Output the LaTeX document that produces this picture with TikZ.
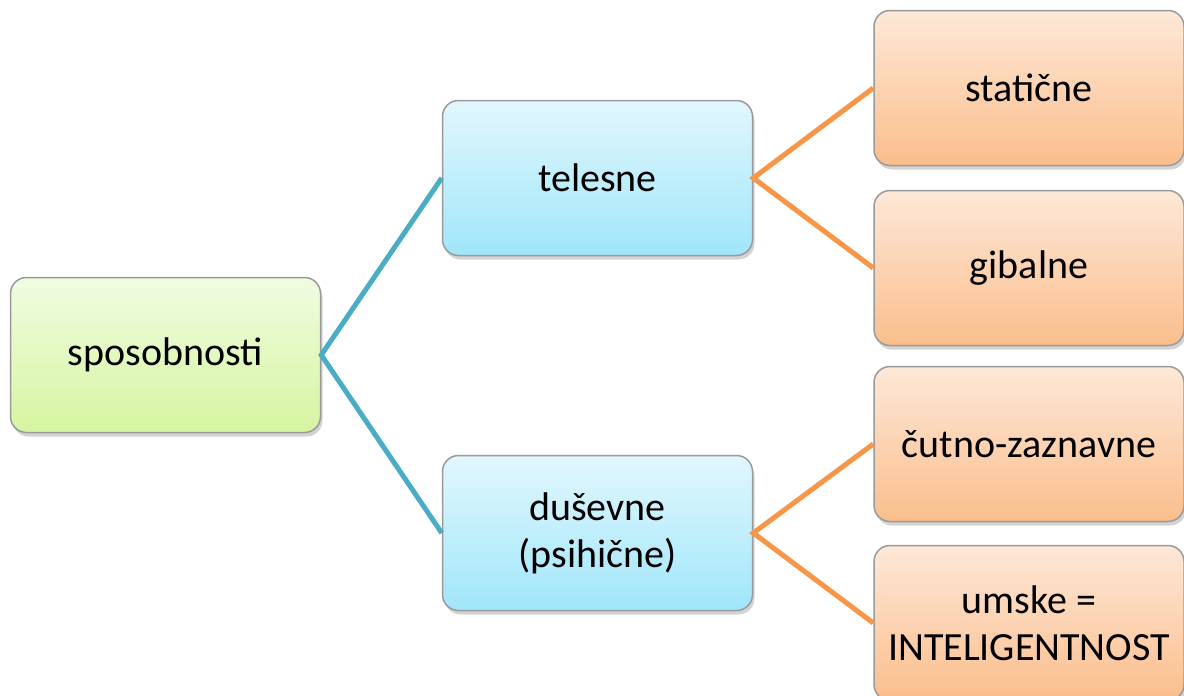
\documentclass[tikz,border=0pt]{standalone}
\usepackage{fontspec}
\setmainfont{Carlito}
\usetikzlibrary{shadows}
\definecolor{lnblue}{HTML}{4BACC6}
\definecolor{lnorange}{HTML}{F79646}
\definecolor{bordergray}{HTML}{9A9A9A}
\tikzset{
  box/.style={draw=bordergray, line width=1.5pt, rounded corners=16pt,
    minimum width=310pt, minimum height=155pt, align=center, inner sep=2pt,
    font=\fontsize{40}{47}\selectfont,
    drop shadow={shadow xshift=2pt, shadow yshift=-4pt, opacity=0.35, fill=gray}},
  greenbox/.style={box, top color={rgb,255:red,240;green,252;blue,225}, bottom color={rgb,255:red,214;green,245;blue,160}},
  bluebox/.style={box, top color={rgb,255:red,226;green,247;blue,253}, bottom color={rgb,255:red,160;green,230;blue,250}},
  orangebox/.style={box, top color={rgb,255:red,253;green,232;blue,216}, bottom color={rgb,255:red,251;green,190;blue,140}},
  blueline/.style={draw=lnblue, line width=5pt},
  orangeline/.style={draw=lnorange, line width=5pt}
}
\begin{document}
\begin{tikzpicture}[x=1pt,y=-1pt]
\useasboundingbox (0,0) rectangle (1184,696);
\clip (0,0) rectangle (1184,696);
\node[greenbox] (spos) at (165.5,355) {sposobnosti};
\node[bluebox] (tel) at (597.5,178) {telesne};
\node[bluebox] (dus) at (597.5,533) {duševne\\(psihične)};
\node[orangebox] (sta) at (1029,88) {statične};
\node[orangebox] (gib) at (1029,268) {gibalne};
\node[orangebox] (cut) at (1029,444) {čutno-zaznavne};
\node[orangebox] (ums) at (1029,623) {umske =\\INTELIGENTNOST};
\draw[blueline] (tel.west) -- (spos.east) -- (dus.west);
\draw[orangeline] (sta.west) -- (tel.east) -- (gib.west);
\draw[orangeline] (cut.west) -- (dus.east) -- (ums.west);
\end{tikzpicture}
\end{document}
